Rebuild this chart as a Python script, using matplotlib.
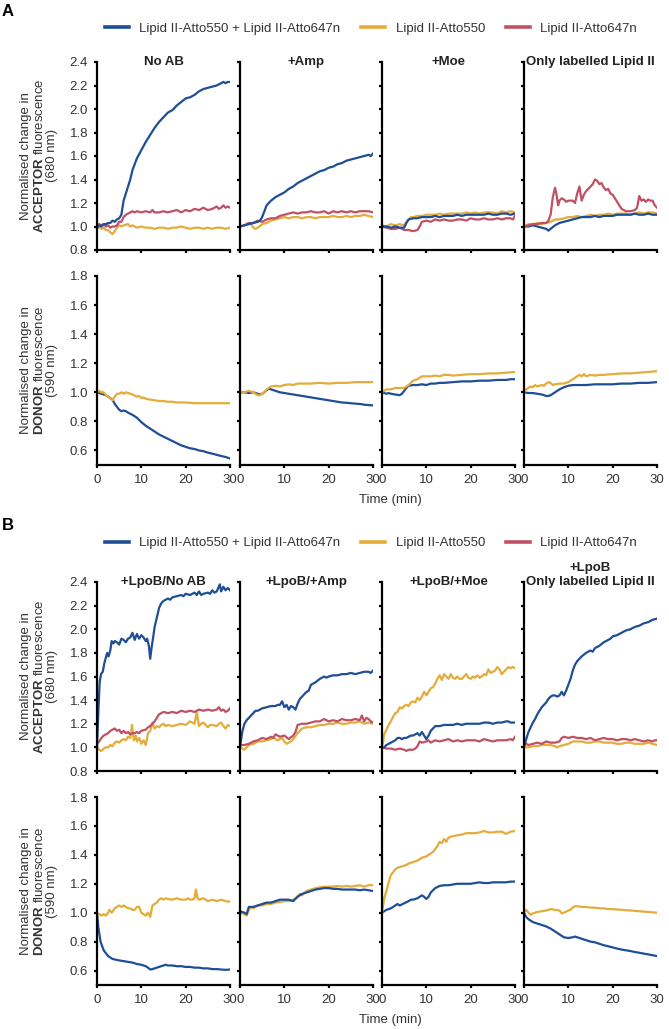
import matplotlib
matplotlib.use("Agg")
import matplotlib.pyplot as plt
from matplotlib.lines import Line2D

plt.rcParams['font.family'] = ['Liberation Sans', 'DejaVu Sans']
plt.rcParams['mathtext.fontset'] = 'custom'
plt.rcParams['mathtext.rm'] = 'Liberation Sans'
plt.rcParams['mathtext.bf'] = 'Liberation Sans:bold'

BLUE = '#1e4e96'
GOLD = '#e4ac3a'
RED = '#c05064'
TEXT = '#333333'

LEGEND_LABELS = ['Lipid II-Atto550 + Lipid II-Atto647n', 'Lipid II-Atto550', 'Lipid II-Atto647n']
TITLES_A = ['No AB', '+Amp', '+Moe', 'Only labelled Lipid II']
TITLES_B = ['+LpoB/No AB', '+LpoB/+Amp', '+LpoB/+Moe', '+LpoB\nOnly labelled Lipid II']
ACC_TICKS = [0.8, 1.0, 1.2, 1.4, 1.6, 1.8, 2.0, 2.2, 2.4]
DON_TICKS = [0.6, 0.8, 1.0, 1.2, 1.4, 1.6, 1.8]
TIME_TICKS = [0, 10, 20, 30]

# ---- panel A, acceptor (680 nm) ----
A_ACC_NOAB_BLUE = [(0, 0.99), (0.5, 1.01), (1, 1.0), (1.5, 1.02), (2, 1.02), (2.5, 1.03), (3, 1.03), (3.5, 1.05), (4, 1.04),
                   (4.5, 1.06), (5, 1.07), (5.5, 1.1), (6, 1.22), (6.5, 1.28), (7, 1.34), (7.5, 1.4), (8, 1.48), (8.5, 1.53),
                   (9, 1.58), (10, 1.65), (11, 1.72), (12, 1.78), (13, 1.84), (14, 1.89), (15, 1.93), (16, 1.97), (17, 1.99),
                   (18, 2.03), (19, 2.06), (20, 2.09), (21, 2.1), (22, 2.12), (23, 2.15), (24, 2.17), (25, 2.18), (26, 2.19),
                   (27, 2.2), (28, 2.22), (28.5, 2.23), (29, 2.22), (29.5, 2.23), (30, 2.23)]
A_ACC_NOAB_GOLD = [(0, 1.0), (0.5, 0.99), (1, 0.98), (1.5, 0.99), (2, 0.97), (2.5, 0.97), (3, 0.95), (3.5, 0.935), (4, 0.96),
                   (4.5, 0.99), (5, 1.01), (5.5, 1.0), (6, 1.01), (7, 1.02), (7.5, 1.0), (8, 1.01), (9, 0.99), (10, 1.0),
                   (11, 0.99), (12, 0.99), (13, 0.98), (14, 0.99), (15, 0.99), (16, 0.98), (17, 0.99), (18, 0.99), (19, 1.0),
                   (20, 0.99), (21, 0.98), (22, 0.99), (23, 0.99), (24, 0.98), (25, 0.99), (26, 0.98), (27, 0.99), (28, 0.99),
                   (29, 0.98), (30, 0.99)]
A_ACC_NOAB_RED = [(0, 1.02), (0.5, 1.02), (1, 1.01), (1.5, 1.02), (2, 1.0), (2.5, 1.01), (3, 0.99), (3.5, 1.0), (4, 1.0),
                  (4.5, 1.01), (5, 1.04), (5.5, 1.04), (6, 1.08), (6.5, 1.1), (7, 1.11), (7.5, 1.12), (8, 1.13), (8.5, 1.12),
                  (9, 1.13), (10, 1.12), (11, 1.13), (12, 1.12), (12.5, 1.14), (13, 1.12), (14, 1.12), (15, 1.13), (16, 1.12),
                  (17, 1.13), (18, 1.14), (19, 1.12), (20, 1.14), (21, 1.13), (22, 1.15), (23, 1.14), (24, 1.16), (25, 1.14),
                  (26, 1.15), (27, 1.17), (27.5, 1.15), (28, 1.16), (28.5, 1.18), (29, 1.16), (29.5, 1.17), (30, 1.16)]

A_ACC_AMP_BLUE = [(0, 1.0), (1, 1.01), (2, 1.02), (3, 1.03), (4, 1.04), (4.5, 1.05), (5, 1.08), (5.5, 1.13), (6, 1.18),
                  (6.5, 1.2), (7, 1.22), (8, 1.25), (9, 1.27), (10, 1.29), (11, 1.32), (12, 1.34), (13, 1.37), (14, 1.39),
                  (15, 1.41), (16, 1.43), (17, 1.45), (18, 1.47), (19, 1.48), (20, 1.5), (21, 1.51), (22, 1.53), (23, 1.54),
                  (24, 1.56), (25, 1.57), (26, 1.58), (27, 1.59), (28, 1.6), (29, 1.61), (29.5, 1.6), (30, 1.62)]
A_ACC_AMP_GOLD = [(0, 1.0), (1, 1.01), (2, 1.03), (2.5, 1.02), (3, 0.99), (3.5, 0.98), (4, 0.99), (5, 1.02), (6, 1.03),
                  (7, 1.05), (8, 1.06), (9, 1.07), (10, 1.08), (11, 1.07), (12, 1.08), (13, 1.08), (14, 1.07), (15, 1.08),
                  (16, 1.08), (17, 1.07), (18, 1.08), (19, 1.08), (20, 1.08), (21, 1.09), (22, 1.08), (23, 1.08), (24, 1.09),
                  (25, 1.08), (26, 1.09), (27, 1.09), (28, 1.1), (29, 1.09), (30, 1.08)]
A_ACC_AMP_RED = [(0, 1.0), (1, 1.01), (2, 1.03), (3, 1.03), (4, 1.05), (5, 1.04), (6, 1.06), (7, 1.07), (8, 1.07),
                 (9, 1.09), (10, 1.1), (11, 1.11), (12, 1.12), (13, 1.11), (14, 1.12), (15, 1.12), (16, 1.13), (17, 1.12),
                 (18, 1.12), (19, 1.13), (20, 1.11), (21, 1.13), (22, 1.12), (23, 1.13), (24, 1.12), (25, 1.13), (26, 1.12),
                 (27, 1.13), (28, 1.13), (29, 1.13), (30, 1.12)]

A_ACC_MOE_BLUE = [(0, 1.0), (1, 1.0), (2, 0.99), (3, 1.0), (4, 0.99), (5, 0.99), (5.5, 1.03), (6, 1.06), (7, 1.07),
                  (8, 1.07), (9, 1.08), (10, 1.08), (11, 1.08), (12, 1.09), (13, 1.08), (14, 1.09), (15, 1.09), (16, 1.09),
                  (17, 1.1), (18, 1.09), (19, 1.1), (20, 1.1), (21, 1.1), (22, 1.1), (23, 1.1), (24, 1.11), (25, 1.1),
                  (26, 1.1), (27, 1.11), (28, 1.11), (29, 1.1), (30, 1.11)]
A_ACC_MOE_GOLD = [(0, 1.01), (1, 1.0), (2, 1.02), (3, 1.01), (4, 1.02), (5, 1.01), (5.5, 1.04), (6.5, 1.08), (7, 1.08),
                  (8, 1.09), (9, 1.09), (10, 1.1), (11, 1.1), (12, 1.1), (13, 1.11), (14, 1.1), (15, 1.11), (16, 1.11),
                  (17, 1.11), (18, 1.11), (19, 1.12), (20, 1.11), (21, 1.12), (22, 1.11), (23, 1.12), (24, 1.12), (25, 1.12),
                  (26, 1.11), (27, 1.13), (28, 1.12), (29, 1.13), (30, 1.12)]
A_ACC_MOE_RED = [(0, 1.0), (1, 0.99), (2, 0.98), (3, 0.98), (4, 0.99), (5, 0.97), (6, 0.97), (7, 0.96), (8, 0.97),
                 (8.5, 1.0), (9, 1.04), (10, 1.05), (11, 1.04), (12, 1.06), (13, 1.05), (14, 1.06), (15, 1.05), (16, 1.05),
                 (17, 1.06), (18, 1.06), (19, 1.05), (20, 1.07), (21, 1.06), (22, 1.06), (23, 1.07), (24, 1.06), (25, 1.06),
                 (26, 1.07), (27, 1.06), (28, 1.07), (29, 1.07), (29.5, 1.06), (30, 1.09)]

A_ACC_ONLY_BLUE = [(0, 1.0), (1, 1.0), (2, 1.01), (3, 1.0), (4, 0.99), (5, 0.98), (5.5, 0.965), (6, 0.98), (7, 1.01),
                   (8, 1.03), (9, 1.04), (10, 1.05), (11, 1.06), (12, 1.07), (13, 1.08), (14, 1.08), (15, 1.08), (16, 1.09),
                   (17, 1.08), (18, 1.09), (19, 1.09), (20, 1.09), (21, 1.1), (22, 1.1), (23, 1.1), (24, 1.1), (25, 1.11),
                   (26, 1.1), (27, 1.1), (28, 1.11), (29, 1.1), (30, 1.1)]
A_ACC_ONLY_GOLD = [(0, 1.0), (1, 1.02), (2, 1.02), (3, 1.03), (4, 1.02), (5, 1.03), (6, 1.04), (7, 1.06), (8, 1.06),
                   (9, 1.07), (10, 1.08), (11, 1.08), (12, 1.09), (13, 1.08), (14, 1.09), (15, 1.1), (16, 1.09), (17, 1.1),
                   (18, 1.1), (19, 1.11), (20, 1.1), (21, 1.11), (22, 1.11), (23, 1.11), (24, 1.1), (25, 1.11), (26, 1.12),
                   (27, 1.11), (28, 1.12), (29, 1.12), (30, 1.11)]
A_ACC_ONLY_RED = [(0, 1.0), (1, 1.01), (2, 1.02), (3, 1.02), (4, 1.03), (5, 1.03), (5.5, 1.05), (6, 1.1), (6.5, 1.25),
                  (7, 1.33), (7.3, 1.28), (7.7, 1.18), (8, 1.22), (8.5, 1.24), (9, 1.23), (9.5, 1.21), (10, 1.22), (11, 1.22),
                  (11.5, 1.2), (12, 1.28), (12.5, 1.34), (13, 1.22), (13.5, 1.27), (14, 1.3), (15, 1.34), (15.5, 1.36),
                  (16, 1.4), (16.5, 1.39), (17, 1.36), (17.5, 1.37), (18, 1.33), (18.5, 1.31), (19, 1.32), (19.5, 1.28),
                  (20, 1.27), (21, 1.21), (22, 1.15), (23, 1.13), (24, 1.13), (25, 1.14), (25.5, 1.16), (26, 1.26),
                  (26.5, 1.22), (27, 1.23), (27.5, 1.21), (28, 1.23), (28.5, 1.22), (29, 1.22), (29.5, 1.18), (30, 1.16)]

# ---- panel A, donor (590 nm) ----
A_DON_NOAB_BLUE = [(0, 1.0), (1, 0.99), (2, 0.98), (3, 0.96), (3.5, 0.95), (4, 0.92), (4.5, 0.9), (5, 0.88), (5.5, 0.87),
                   (6, 0.875), (6.5, 0.87), (7, 0.86), (8, 0.845), (9, 0.825), (10, 0.795), (11, 0.77), (12, 0.75),
                   (13, 0.73), (14, 0.71), (15, 0.695), (16, 0.68), (17, 0.665), (18, 0.65), (19, 0.635), (20, 0.625),
                   (21, 0.615), (22, 0.61), (23, 0.6), (24, 0.595), (25, 0.585), (26, 0.578), (27, 0.57), (28, 0.562),
                   (29, 0.555), (30, 0.545)]
A_DON_NOAB_GOLD = [(0, 1.0), (0.5, 1.01), (1, 1.0), (1.5, 1.0), (2, 0.98), (2.5, 0.97), (3, 0.96), (3.5, 0.945), (4, 0.97),
                   (4.5, 0.99), (5, 0.99), (5.5, 1.0), (6, 0.99), (6.5, 1.0), (7, 0.995), (8, 0.985), (9, 0.97), (9.5, 0.975),
                   (10, 0.96), (10.5, 0.965), (11, 0.955), (12, 0.95), (13, 0.945), (14, 0.94), (15, 0.94), (16, 0.935),
                   (17, 0.935), (18, 0.93), (20, 0.93), (22, 0.925), (24, 0.925), (26, 0.925), (28, 0.925), (30, 0.925)]

A_DON_AMP_BLUE = [(0, 1.0), (1, 1.0), (2, 0.995), (3, 1.0), (4, 0.99), (4.5, 0.985), (5, 0.99), (5.5, 1.0), (6, 1.015),
                  (6.5, 1.025), (7, 1.02), (8, 1.01), (9, 1.0), (10, 0.995), (11, 0.99), (12, 0.985), (13, 0.98), (14, 0.975),
                  (15, 0.97), (16, 0.965), (17, 0.96), (18, 0.955), (19, 0.95), (20, 0.945), (21, 0.94), (22, 0.935),
                  (23, 0.93), (24, 0.928), (25, 0.925), (26, 0.922), (27, 0.92), (28, 0.915), (29, 0.912), (30, 0.91)]
A_DON_AMP_GOLD = [(0, 1.0), (1, 1.0), (2, 1.01), (3, 1.0), (3.5, 0.99), (4, 0.98), (4.5, 0.98), (5, 0.99), (5.5, 1.0),
                  (6, 1.02), (7, 1.04), (8, 1.045), (9, 1.04), (10, 1.05), (11, 1.055), (12, 1.05), (13, 1.06), (14, 1.06),
                  (15, 1.06), (16, 1.06), (18, 1.065), (20, 1.06), (22, 1.065), (24, 1.065), (26, 1.07), (28, 1.07), (30, 1.07)]

A_DON_MOE_BLUE = [(0, 1.0), (1, 0.99), (1.5, 0.995), (2, 0.99), (3, 0.985), (4, 0.98), (4.5, 0.99), (5, 1.01), (5.5, 1.03),
                  (6, 1.045), (7, 1.05), (8, 1.05), (9, 1.055), (10, 1.05), (11, 1.06), (12, 1.06), (13, 1.065), (14, 1.065),
                  (16, 1.07), (18, 1.075), (20, 1.075), (22, 1.08), (24, 1.08), (26, 1.085), (28, 1.085), (29, 1.09), (30, 1.09)]
A_DON_MOE_GOLD = [(0, 1.0), (1, 1.02), (2, 1.02), (3, 1.03), (4, 1.03), (5, 1.03), (6, 1.05), (7, 1.08), (8, 1.09),
                  (9, 1.11), (10, 1.11), (11, 1.11), (12, 1.115), (13, 1.11), (14, 1.12), (15, 1.12), (16, 1.115), (18, 1.12),
                  (20, 1.125), (22, 1.125), (24, 1.13), (26, 1.13), (28, 1.135), (30, 1.14)]

A_DON_ONLY_BLUE = [(0, 1.0), (1, 0.995), (2, 0.995), (3, 0.99), (4, 0.985), (5, 0.975), (5.5, 0.975), (6, 0.98), (7, 1.0),
                   (8, 1.02), (9, 1.035), (10, 1.045), (11, 1.05), (12, 1.05), (14, 1.05), (16, 1.055), (18, 1.055),
                   (20, 1.055), (22, 1.06), (24, 1.06), (26, 1.065), (28, 1.065), (30, 1.07)]
A_DON_ONLY_GOLD = [(0, 1.0), (0.5, 1.02), (1, 1.03), (1.5, 1.04), (2, 1.035), (2.5, 1.05), (3, 1.04), (4, 1.05), (4.5, 1.045),
                   (5, 1.06), (5.5, 1.07), (6, 1.065), (6.5, 1.05), (7, 1.055), (8, 1.06), (9, 1.06), (10, 1.07), (11, 1.09),
                   (12, 1.11), (12.5, 1.12), (13, 1.11), (13.5, 1.125), (14, 1.11), (15, 1.12), (16, 1.115), (17, 1.12),
                   (18, 1.12), (20, 1.125), (22, 1.13), (24, 1.13), (26, 1.135), (28, 1.14), (30, 1.145)]

# ---- panel B, acceptor (680 nm) ----
B_ACC_NOAB_BLUE = [(0, 1.0), (0.3, 1.3), (0.6, 1.55), (0.9, 1.62), (1.3, 1.64), (1.7, 1.72), (2, 1.76), (2.3, 1.8),
                   (2.6, 1.77), (3, 1.82), (3.3, 1.9), (3.7, 1.88), (4, 1.9), (4.5, 1.89), (5, 1.87), (5.5, 1.92), (6, 1.91),
                   (6.5, 1.89), (7, 1.92), (7.5, 1.93), (8, 1.97), (8.5, 1.91), (9, 1.96), (9.5, 1.92), (10, 1.95),
                   (10.5, 1.93), (11, 1.9), (11.3, 1.92), (11.7, 1.86), (12, 1.75), (12.3, 1.84), (12.7, 1.94), (13, 2.02),
                   (13.5, 2.1), (14, 2.18), (14.5, 2.22), (15, 2.24), (15.5, 2.25), (16, 2.26), (16.5, 2.25), (17, 2.27),
                   (18, 2.28), (19, 2.29), (19.5, 2.28), (20, 2.3), (21, 2.29), (22, 2.31), (22.5, 2.29), (23, 2.32),
                   (23.5, 2.29), (24, 2.3), (25, 2.31), (25.5, 2.3), (26, 2.33), (26.5, 2.31), (27, 2.32), (27.7, 2.38),
                   (28, 2.32), (28.5, 2.36), (29, 2.33), (29.5, 2.35), (30, 2.33)]
B_ACC_NOAB_GOLD = [(0, 1.0), (0.5, 0.98), (1, 0.97), (1.5, 0.99), (2, 1.0), (2.5, 1.0), (3, 1.02), (3.5, 1.01), (4, 1.04),
                   (4.5, 1.05), (5, 1.04), (5.5, 1.06), (6, 1.07), (6.5, 1.06), (7, 1.09), (7.5, 1.08), (7.9, 1.19),
                   (8.3, 1.06), (8.7, 1.1), (9, 1.05), (9.5, 1.08), (10, 1.03), (10.5, 1.06), (11, 1.02), (11.5, 1.12),
                   (12, 1.14), (12.5, 1.21), (13, 1.16), (13.5, 1.18), (14, 1.17), (14.5, 1.19), (15, 1.2), (15.5, 1.18),
                   (16, 1.19), (17, 1.18), (18, 1.19), (19, 1.2), (20, 1.19), (21, 1.22), (22, 1.2), (22.5, 1.3), (23, 1.18),
                   (23.5, 1.2), (24, 1.21), (25, 1.17), (25.5, 1.19), (26, 1.19), (27, 1.18), (27.5, 1.2), (28, 1.21),
                   (28.5, 1.18), (29, 1.16), (29.5, 1.19), (30, 1.18)]
B_ACC_NOAB_RED = [(0, 1.03), (0.5, 1.05), (1, 1.08), (1.5, 1.1), (2, 1.11), (2.5, 1.12), (3, 1.14), (3.5, 1.15), (4, 1.16),
                  (4.5, 1.14), (5, 1.15), (5.5, 1.12), (6, 1.14), (6.5, 1.12), (7, 1.13), (7.5, 1.11), (8, 1.12), (8.5, 1.12),
                  (9, 1.13), (9.5, 1.12), (10, 1.14), (11, 1.15), (11.5, 1.17), (12, 1.18), (12.5, 1.2), (13, 1.22),
                  (13.5, 1.25), (14, 1.28), (14.5, 1.29), (15, 1.3), (16, 1.29), (17, 1.3), (18, 1.29), (19, 1.31), (20, 1.3),
                  (21, 1.31), (22, 1.3), (23, 1.32), (24, 1.31), (25, 1.32), (26, 1.31), (27, 1.32), (27.5, 1.34),
                  (28, 1.31), (28.5, 1.32), (29, 1.3), (29.5, 1.31), (30, 1.33)]

B_ACC_AMP_BLUE = [(0, 1.0), (0.5, 1.13), (1, 1.2), (1.5, 1.23), (2, 1.25), (2.5, 1.27), (3, 1.29), (3.5, 1.31), (4, 1.31),
                  (5, 1.33), (6, 1.34), (7, 1.35), (8, 1.35), (8.5, 1.36), (9, 1.36), (9.5, 1.39), (10, 1.34), (10.5, 1.36),
                  (11, 1.32), (11.5, 1.35), (12, 1.34), (12.5, 1.32), (13, 1.37), (13.5, 1.41), (14, 1.43), (15, 1.47),
                  (15.5, 1.48), (16, 1.53), (17, 1.55), (18, 1.58), (19, 1.6), (19.5, 1.59), (20, 1.6), (21, 1.61),
                  (22, 1.61), (23, 1.62), (24, 1.62), (25, 1.63), (26, 1.62), (27, 1.63), (28, 1.64), (29, 1.64),
                  (29.5, 1.63), (30, 1.65)]
B_ACC_AMP_GOLD = [(0, 1.0), (0.5, 0.99), (1, 0.98), (1.5, 1.0), (2, 1.02), (3, 1.03), (4, 1.05), (5, 1.05), (6, 1.06),
                  (7, 1.07), (7.5, 1.085), (8, 1.07), (8.5, 1.06), (9, 1.07), (9.5, 1.08), (10, 1.05), (10.5, 1.03),
                  (11, 1.04), (11.5, 1.05), (12, 1.07), (13, 1.12), (14, 1.16), (15, 1.17), (16, 1.17), (17, 1.18),
                  (18, 1.19), (19, 1.19), (20, 1.2), (21, 1.2), (22, 1.21), (23, 1.2), (24, 1.2), (25, 1.21), (26, 1.21),
                  (27, 1.22), (28, 1.2), (29, 1.21), (30, 1.2)]
B_ACC_AMP_RED = [(0, 1.02), (1, 1.02), (2, 1.03), (3, 1.05), (4, 1.06), (5, 1.08), (6, 1.07), (7, 1.09), (7.5, 1.08),
                 (8, 1.11), (9, 1.09), (10, 1.1), (11, 1.07), (12, 1.1), (12.5, 1.13), (13, 1.19), (14, 1.2), (15, 1.2),
                 (16, 1.21), (17, 1.22), (18, 1.22), (19, 1.24), (20, 1.22), (21, 1.23), (22, 1.22), (23, 1.24), (24, 1.23),
                 (25, 1.23), (26, 1.24), (27, 1.23), (27.5, 1.27), (28, 1.22), (28.5, 1.25), (29, 1.24), (29.5, 1.22),
                 (30, 1.21)]

B_ACC_MOE_BLUE = [(0, 1.0), (0.5, 1.0), (1, 1.02), (1.5, 1.03), (2, 1.04), (2.5, 1.05), (3, 1.06), (3.5, 1.08), (4, 1.08),
                  (4.5, 1.07), (5, 1.08), (5.5, 1.08), (6, 1.09), (6.5, 1.1), (7, 1.1), (7.5, 1.11), (8, 1.12), (8.5, 1.1),
                  (9, 1.13), (9.5, 1.1), (10, 1.07), (10.5, 1.1), (11, 1.14), (11.5, 1.16), (12, 1.18), (13, 1.18),
                  (14, 1.19), (15, 1.19), (16, 1.19), (17, 1.2), (18, 1.19), (19, 1.2), (20, 1.2), (21, 1.2), (22, 1.2),
                  (23, 1.21), (24, 1.21), (25, 1.2), (26, 1.21), (27, 1.21), (28, 1.22), (28.5, 1.22), (29, 1.21), (30, 1.21)]
B_ACC_MOE_GOLD = [(0, 1.0), (0.3, 1.06), (0.5, 1.11), (1, 1.15), (1.5, 1.19), (2, 1.22), (2.5, 1.26), (3, 1.29), (3.5, 1.3),
                  (4, 1.34), (4.5, 1.33), (5, 1.35), (5.5, 1.36), (6, 1.35), (6.5, 1.38), (7, 1.39), (7.5, 1.38), (8, 1.42),
                  (8.5, 1.4), (9, 1.43), (9.5, 1.47), (10, 1.44), (10.5, 1.47), (11, 1.5), (11.5, 1.51), (12, 1.54),
                  (12.5, 1.58), (13, 1.61), (13.5, 1.57), (14, 1.62), (14.5, 1.6), (15, 1.58), (15.5, 1.62), (16, 1.59),
                  (16.5, 1.58), (17, 1.6), (17.5, 1.58), (18, 1.58), (18.5, 1.6), (19, 1.62), (19.5, 1.59), (20, 1.58),
                  (20.5, 1.6), (21, 1.59), (21.5, 1.61), (22, 1.59), (22.5, 1.6), (23, 1.62), (23.5, 1.61), (24, 1.66),
                  (24.5, 1.63), (25, 1.64), (25.5, 1.65), (26, 1.68), (26.5, 1.66), (27, 1.62), (27.5, 1.64), (28, 1.66),
                  (28.5, 1.68), (29, 1.67), (29.5, 1.68), (30, 1.67)]
B_ACC_MOE_RED = [(0, 1.0), (1, 0.99), (2, 0.99), (3, 0.98), (4, 0.99), (5, 0.98), (5.5, 0.97), (6, 0.98), (7, 0.98),
                 (7.5, 0.99), (8, 1.01), (8.5, 1.05), (9, 1.04), (10, 1.05), (10.5, 1.06), (11, 1.04), (12, 1.06), (13, 1.05),
                 (14, 1.06), (15, 1.07), (16, 1.05), (17, 1.06), (18, 1.05), (19, 1.06), (20, 1.06), (21, 1.06), (22, 1.05),
                 (23, 1.07), (24, 1.06), (25, 1.05), (26, 1.06), (27, 1.06), (28, 1.06), (29, 1.07), (29.5, 1.06), (30, 1.09)]

B_ACC_ONLY_BLUE = [(0, 1.0), (0.5, 1.07), (1, 1.13), (1.5, 1.17), (2, 1.21), (2.5, 1.24), (3, 1.28), (3.5, 1.31), (4, 1.34),
                   (4.5, 1.36), (5, 1.38), (5.5, 1.41), (6, 1.43), (6.5, 1.44), (7, 1.44), (7.5, 1.43), (8, 1.44), (8.5, 1.47),
                   (9, 1.44), (9.5, 1.48), (10, 1.53), (10.5, 1.58), (11, 1.65), (11.5, 1.7), (12, 1.73), (12.5, 1.75),
                   (13, 1.77), (14, 1.8), (15, 1.82), (15.5, 1.81), (16, 1.84), (17, 1.86), (18, 1.89), (19, 1.91),
                   (19.5, 1.92), (20, 1.94), (21, 1.95), (22, 1.97), (23, 1.99), (24, 2.0), (25, 2.02), (26, 2.03),
                   (27, 2.05), (28, 2.06), (29, 2.08), (30, 2.09)]
B_ACC_ONLY_GOLD = [(0, 1.0), (1, 1.0), (2, 1.01), (3, 1.01), (4, 1.02), (5, 1.02), (6, 1.02), (7, 1.01), (7.5, 1.0),
                   (8, 1.01), (9, 1.02), (10, 1.03), (11, 1.05), (12, 1.05), (13, 1.05), (14, 1.04), (15, 1.04), (16, 1.05),
                   (17, 1.05), (18, 1.04), (19, 1.04), (20, 1.04), (21, 1.03), (22, 1.03), (23, 1.04), (24, 1.04), (25, 1.03),
                   (26, 1.03), (27, 1.03), (28, 1.04), (29, 1.03), (30, 1.02)]
B_ACC_ONLY_RED = [(0, 1.02), (0.5, 1.03), (1, 1.02), (2, 1.03), (3, 1.04), (4, 1.03), (5, 1.05), (6, 1.04), (7, 1.04),
                  (8, 1.05), (8.5, 1.08), (9, 1.09), (10, 1.08), (11, 1.09), (12, 1.08), (13, 1.08), (14, 1.07), (15, 1.08),
                  (16, 1.06), (17, 1.07), (18, 1.08), (19, 1.07), (20, 1.07), (21, 1.06), (22, 1.07), (23, 1.07), (24, 1.06),
                  (25, 1.07), (26, 1.06), (27, 1.05), (28, 1.06), (29, 1.05), (29.5, 1.06), (30, 1.06)]

# ---- panel B, donor (590 nm) ----
B_DON_NOAB_BLUE = [(0, 1.0), (0.3, 0.9), (0.8, 0.8), (1.5, 0.74), (2.5, 0.7), (3.5, 0.68), (5, 0.67), (6, 0.665), (7, 0.66),
                   (8, 0.655), (9, 0.645), (10, 0.64), (11, 0.63), (11.5, 0.62), (12, 0.607), (12.5, 0.61), (13, 0.615),
                   (14, 0.625), (15, 0.635), (15.5, 0.64), (16, 0.635), (17, 0.635), (18, 0.63), (19, 0.63), (20, 0.625),
                   (21, 0.625), (22, 0.62), (23, 0.62), (24, 0.615), (25, 0.615), (26, 0.61), (27, 0.61), (28, 0.607),
                   (29, 0.605), (30, 0.607)]
B_DON_NOAB_GOLD = [(0, 1.0), (0.5, 0.99), (1, 0.98), (1.5, 0.99), (2, 0.98), (2.5, 1.0), (2.8, 1.02), (3.3, 1.0), (4, 1.03),
                   (4.5, 1.04), (5, 1.05), (5.5, 1.04), (6, 1.05), (6.5, 1.04), (7, 1.03), (7.5, 1.03), (8, 1.02), (8.5, 1.02),
                   (9, 1.04), (9.5, 1.04), (10, 1.0), (10.5, 0.99), (11, 0.98), (11.5, 1.0), (12, 0.97), (12.5, 1.05),
                   (13, 1.06), (13.5, 1.07), (14, 1.09), (14.5, 1.1), (15, 1.09), (15.5, 1.1), (16, 1.095), (17, 1.09),
                   (18, 1.1), (19, 1.09), (20, 1.09), (20.5, 1.1), (21, 1.09), (21.5, 1.09), (22, 1.1), (22.3, 1.16),
                   (22.7, 1.1), (23, 1.09), (24, 1.1), (25, 1.08), (26, 1.09), (27, 1.08), (28, 1.09), (29, 1.08), (30, 1.075)]

B_DON_AMP_BLUE = [(0, 1.01), (1, 1.0), (1.5, 0.99), (2, 1.04), (3, 1.04), (4, 1.05), (5, 1.06), (6, 1.07), (7, 1.07),
                  (8, 1.08), (9, 1.09), (10, 1.09), (11, 1.09), (12, 1.08), (13, 1.11), (14, 1.13), (15, 1.14), (16, 1.15),
                  (17, 1.16), (18, 1.165), (19, 1.17), (20, 1.17), (21, 1.165), (22, 1.165), (23, 1.16), (24, 1.16),
                  (25, 1.16), (26, 1.16), (27, 1.155), (28, 1.16), (29, 1.155), (30, 1.15)]
B_DON_AMP_GOLD = [(0, 1.0), (1, 0.99), (1.5, 0.98), (2, 1.02), (2.5, 1.04), (3, 1.03), (4, 1.05), (5, 1.05), (6, 1.06),
                  (7, 1.06), (8, 1.07), (9, 1.075), (10, 1.08), (11, 1.08), (12, 1.09), (12.5, 1.1), (13.5, 1.13), (14, 1.12),
                  (15, 1.15), (16, 1.16), (17, 1.17), (18, 1.175), (19, 1.18), (20, 1.18), (21, 1.18), (22, 1.185),
                  (23, 1.18), (24, 1.185), (25, 1.18), (26, 1.185), (27, 1.19), (28, 1.18), (29, 1.19), (30, 1.19)]

B_DON_MOE_BLUE = [(0, 1.0), (1, 1.02), (2, 1.03), (2.5, 1.04), (3.5, 1.06), (4, 1.05), (5, 1.065), (6, 1.08), (6.5, 1.09),
                  (7, 1.09), (8, 1.1), (9, 1.12), (9.5, 1.11), (10, 1.095), (10.5, 1.11), (11, 1.14), (12, 1.17),
                  (13, 1.185), (14, 1.19), (15, 1.19), (16, 1.195), (17, 1.2), (18, 1.2), (19, 1.2), (20, 1.2), (21, 1.205),
                  (22, 1.21), (23, 1.205), (24, 1.205), (25, 1.21), (26, 1.21), (27, 1.21), (28, 1.21), (29, 1.215),
                  (30, 1.215)]
B_DON_MOE_GOLD = [(0, 1.0), (0.5, 1.1), (1, 1.15), (1.5, 1.21), (2, 1.26), (2.5, 1.28), (3, 1.3), (3.5, 1.31), (4.5, 1.32),
                  (5.5, 1.33), (6, 1.34), (7, 1.35), (8, 1.36), (8.5, 1.37), (9, 1.38), (10, 1.39), (11, 1.41), (11.5, 1.42),
                  (12, 1.44), (12.5, 1.46), (13, 1.49), (13.5, 1.48), (14, 1.51), (14.5, 1.49), (15, 1.52), (16, 1.53),
                  (17, 1.535), (18, 1.54), (19, 1.55), (20, 1.55), (21, 1.55), (22, 1.555), (23, 1.565), (24, 1.555),
                  (25, 1.555), (26, 1.56), (27, 1.56), (28, 1.545), (29, 1.56), (30, 1.565)]

B_DON_ONLY_BLUE = [(0, 1.0), (0.5, 0.97), (1, 0.955), (1.5, 0.945), (2, 0.935), (3, 0.925), (4, 0.915), (5, 0.905),
                   (6, 0.89), (7, 0.87), (8, 0.85), (9, 0.83), (10, 0.825), (11, 0.83), (11.5, 0.835), (12, 0.83), (13, 0.82),
                   (14, 0.81), (15, 0.8), (16, 0.795), (17, 0.785), (18, 0.775), (19, 0.768), (20, 0.76), (21, 0.752),
                   (22, 0.745), (23, 0.74), (24, 0.735), (25, 0.728), (26, 0.723), (27, 0.717), (28, 0.712), (29, 0.706),
                   (30, 0.7)]
B_DON_ONLY_GOLD = [(0, 1.0), (0.5, 1.02), (1, 1.0), (1.5, 0.985), (2, 0.995), (3, 1.005), (4, 1.01), (5, 1.015), (6, 1.025),
                   (7, 1.02), (8, 1.015), (8.5, 0.995), (9, 1.0), (10, 1.015), (10.5, 1.02), (11, 1.035), (11.5, 1.045),
                   (12, 1.045), (13, 1.04), (14, 1.04), (15, 1.035), (16, 1.035), (17, 1.03), (18, 1.03), (19, 1.025),
                   (20, 1.025), (22, 1.02), (24, 1.015), (26, 1.01), (28, 1.005), (30, 1.0)]

W, H = 669, 1029
COL_LEFT = [97, 240, 382, 524]
COL_W = 133

ACC_LABEL = 'Normalised change in\n$\\mathbf{ACCEPTOR}$ fluorescence\n(680 nm)'
DON_LABEL = 'Normalised change in\n$\\mathbf{DONOR}$ fluorescence\n(590 nm)'

# (top px, bottom px, ylim, ticks, ylabel, titles, series per column, colours, show x labels)
rows = [
    (62, 250, (0.8, 2.4), ACC_TICKS, ACC_LABEL, TITLES_A,
     [[A_ACC_NOAB_GOLD, A_ACC_NOAB_RED, A_ACC_NOAB_BLUE], [A_ACC_AMP_GOLD, A_ACC_AMP_RED, A_ACC_AMP_BLUE],
      [A_ACC_MOE_GOLD, A_ACC_MOE_RED, A_ACC_MOE_BLUE], [A_ACC_ONLY_GOLD, A_ACC_ONLY_BLUE, A_ACC_ONLY_RED]],
     [[GOLD, RED, BLUE], [GOLD, RED, BLUE], [GOLD, RED, BLUE], [GOLD, BLUE, RED]], False),
    (276, 465, (0.5, 1.8), DON_TICKS, DON_LABEL, None,
     [[A_DON_NOAB_BLUE, A_DON_NOAB_GOLD], [A_DON_AMP_BLUE, A_DON_AMP_GOLD],
      [A_DON_MOE_BLUE, A_DON_MOE_GOLD], [A_DON_ONLY_BLUE, A_DON_ONLY_GOLD]],
     [[BLUE, GOLD]] * 4, True),
    (582, 771, (0.8, 2.4), ACC_TICKS, ACC_LABEL, TITLES_B,
     [[B_ACC_NOAB_GOLD, B_ACC_NOAB_RED, B_ACC_NOAB_BLUE], [B_ACC_AMP_GOLD, B_ACC_AMP_RED, B_ACC_AMP_BLUE],
      [B_ACC_MOE_RED, B_ACC_MOE_BLUE, B_ACC_MOE_GOLD], [B_ACC_ONLY_GOLD, B_ACC_ONLY_RED, B_ACC_ONLY_BLUE]],
     [[GOLD, RED, BLUE], [GOLD, RED, BLUE], [RED, BLUE, GOLD], [GOLD, RED, BLUE]], False),
    (797, 985, (0.5, 1.8), DON_TICKS, DON_LABEL, None,
     [[B_DON_NOAB_BLUE, B_DON_NOAB_GOLD], [B_DON_AMP_GOLD, B_DON_AMP_BLUE],
      [B_DON_MOE_BLUE, B_DON_MOE_GOLD], [B_DON_ONLY_BLUE, B_DON_ONLY_GOLD]],
     [[BLUE, GOLD], [GOLD, BLUE], [BLUE, GOLD], [BLUE, GOLD]], True),
]

fig = plt.figure(figsize=(W / 100, H / 100), dpi=100)

for top, bottom, ylim, yticks, ylabel, titles, series, colors, xlabels in rows:
    for c in range(4):
        ax = fig.add_axes([COL_LEFT[c] / W, 1 - bottom / H, COL_W / W, (bottom - top) / H])
        for pts, col in zip(series[c], colors[c]):
            t, v = zip(*pts)
            ax.plot(t, v, color=col, lw=1.6, solid_joinstyle='round')
        ax.set_xlim(0, 30)
        ax.set_ylim(*ylim)
        ax.set_xticks(TIME_TICKS)
        ax.set_yticks(yticks)
        ax.set_yticklabels([f'{y:.1f}' for y in yticks] if c == 0 else [])
        if not xlabels:
            ax.set_xticklabels([])
        for s in ('top', 'right'):
            ax.spines[s].set_visible(False)
        for s in ('left', 'bottom'):
            ax.spines[s].set_linewidth(1.6)
        ax.tick_params(direction='out', length=2.5, width=1.6, labelsize=9.5, pad=4, labelcolor=TEXT)
        if titles:
            ax.annotate(titles[c], xy=(0.5, 1), xycoords='axes fraction', xytext=(0, -4.5),
                        textcoords='offset points', ha='center', va='bottom', fontsize=9.5,
                        fontweight='bold', color='#222222', linespacing=1.25)
    fig.text(39 / W, 1 - (top + bottom) / 2 / H, ylabel, rotation=90, ha='center', va='center',
             multialignment='center', fontsize=9.5, color=TEXT, linespacing=1.1)
    if xlabels:
        fig.text(390 / W, 1 - (bottom + 35) / H, 'Time (min)', ha='center', va='center',
                 fontsize=9.5, color=TEXT)

handles = [Line2D([], [], color=c, lw=2.6) for c in (BLUE, GOLD, RED)]
for label, ypx, legy in (('A', 12, 29), ('B', 526, 543)):
    fig.text(2 / W, 1 - ypx / H, label, fontsize=12, fontweight='bold', ha='left', va='center')
    fig.legend(handles, LEGEND_LABELS, loc='center', bbox_to_anchor=(371 / W, 1 - legy / H), ncol=3,
               frameon=False, fontsize=9.5, handlelength=1.8, handletextpad=0.8, columnspacing=1.6,
               labelcolor=TEXT)

fig.savefig('out.png', dpi=100)
